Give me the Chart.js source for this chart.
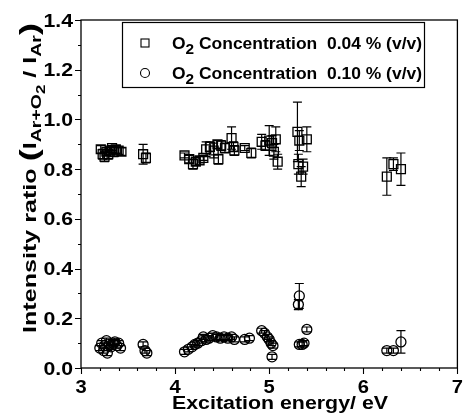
<!DOCTYPE html>
<html>
<head>
<meta charset="utf-8">
<script src="https://cdn.jsdelivr.net/npm/chart.js@4/dist/chart.umd.min.js"></script>
<style>
  html, body { margin: 0; padding: 0; background: #fff; }
  #wrap { width: 465px; height: 420px; }
</style>
</head>
<body>
<div id="wrap"><canvas id="chart" width="465" height="420"></canvas></div>
<script>
// O2 0.04 % (v/v): excitation energy (eV), intensity ratio, error
const energy004 = [3.21, 3.23, 3.25, 3.27, 3.29, 3.31, 3.33, 3.35, 3.37, 3.40, 3.43,
  3.66, 3.69,
  4.10, 4.15, 4.19, 4.22, 4.26, 4.30, 4.33, 4.37, 4.41, 4.45, 4.46, 4.49, 4.53,
  4.60, 4.62, 4.63, 4.74, 4.81,
  4.92, 4.96, 5.00, 5.03, 5.05, 5.07, 5.09,
  5.30, 5.32, 5.40, 5.31, 5.36, 5.34,
  6.25, 6.32, 6.40];
const ratio004 = [0.88, 0.86, 0.85, 0.87, 0.86, 0.875, 0.885, 0.87, 0.88, 0.875, 0.87,
  0.86, 0.845,
  0.855, 0.84, 0.82, 0.83, 0.835, 0.845, 0.88, 0.89, 0.875, 0.90, 0.84, 0.895, 0.885,
  0.925, 0.89, 0.875, 0.885, 0.865,
  0.91, 0.895, 0.915, 0.905, 0.87, 0.92, 0.83,
  0.95, 0.915, 0.92, 0.82, 0.81, 0.77,
  0.77, 0.82, 0.80];
const error004 = [0.015, 0.02, 0.02, 0.015, 0.02, 0.015, 0.01, 0.02, 0.015, 0.015, 0.015,
  0.04, 0.02,
  0.01, 0.015, 0.02, 0.015, 0.015, 0.01, 0.03, 0.02, 0.03, 0.015, 0.02, 0.02, 0.02,
  0.045, 0.02, 0.02, 0.01, 0.02,
  0.03, 0.02, 0.06, 0.03, 0.03, 0.05, 0.03,
  0.12, 0.04, 0.05, 0.04, 0.03, 0.04,
  0.075, 0.025, 0.065];

// O2 0.10 % (v/v)
const energy010 = [3.20, 3.22, 3.24, 3.25, 3.27, 3.28, 3.30, 3.32, 3.34, 3.36, 3.38, 3.40, 3.42,
  3.66, 3.68, 3.70,
  4.10, 4.14, 4.18, 4.21, 4.24, 4.28, 4.30, 4.33, 4.36, 4.40, 4.44, 4.48, 4.52, 4.56, 4.60, 4.63,
  4.74, 4.79,
  4.92, 4.95, 4.98, 5.00, 5.02, 5.04, 5.03,
  5.32, 5.31, 5.40, 5.32, 5.35, 5.37,
  6.25, 6.32, 6.40];
const ratio010 = [0.08, 0.10, 0.07, 0.09, 0.11, 0.06, 0.095, 0.085, 0.10, 0.105, 0.09, 0.10, 0.08,
  0.095, 0.07, 0.06,
  0.065, 0.075, 0.085, 0.095, 0.10, 0.11, 0.125, 0.115, 0.12, 0.13, 0.125, 0.12, 0.125, 0.12, 0.125, 0.115,
  0.115, 0.12,
  0.15, 0.14, 0.125, 0.115, 0.10, 0.09, 0.045,
  0.29, 0.255, 0.155, 0.095, 0.095, 0.10,
  0.07, 0.07, 0.105];
const error010 = [0.01, 0.01, 0.01, 0.01, 0.01, 0.01, 0.01, 0.01, 0.01, 0.01, 0.01, 0.01, 0.01,
  0.01, 0.01, 0.01,
  0.01, 0.01, 0.01, 0.01, 0.01, 0.01, 0.01, 0.01, 0.01, 0.01, 0.01, 0.01, 0.01, 0.01, 0.01, 0.01,
  0.01, 0.01,
  0.01, 0.01, 0.01, 0.01, 0.01, 0.01, 0.01,
  0.05, 0.02, 0.01, 0.01, 0.01, 0.01,
  0.01, 0.01, 0.045];

const xTickValues = [3, 4, 5, 6, 7];
const yTickValues = [0, 0.2, 0.4, 0.6, 0.8, 1.0, 1.2, 1.4];
const legendValues = ['0.04 % (v/v)', '0.10 % (v/v)'];

const FONT = '"Liberation Sans", Arial, sans-serif';

function points(xs, ys) { return xs.map((x, i) => ({ x, y: ys[i] })); }

// draw a sequence of text runs (size, baseline shift) stretched to a given total width
function runsWidth(ctx, runs) {
  let w = 0;
  for (const r of runs) { ctx.font = 'bold ' + r.size + 'px ' + FONT; w += ctx.measureText(r.t).width; }
  return w;
}
function drawRuns(ctx, x, y, runs, targetWidth) {
  const w = runsWidth(ctx, runs);
  const sx = targetWidth ? targetWidth / w : 1;
  ctx.save();
  ctx.translate(x, y);
  ctx.scale(sx, 1);
  ctx.textAlign = 'left';
  ctx.textBaseline = 'alphabetic';
  let cx = 0;
  for (const r of runs) {
    ctx.font = 'bold ' + r.size + 'px ' + FONT;
    ctx.fillText(r.t, cx, r.dy || 0);
    cx += ctx.measureText(r.t).width;
  }
  ctx.restore();
}

const errorBars = {
  id: 'errorBars',
  beforeDatasetsDraw(chart) {
    const { ctx, scales: { x, y } } = chart;
    const sets = [[energy004, ratio004, error004], [energy010, ratio010, error010]];
    ctx.save();
    ctx.strokeStyle = '#000';
    ctx.lineWidth = 1.2;
    for (const [xs, ys, es] of sets) {
      xs.forEach((e, i) => {
        const px = x.getPixelForValue(e);
        const top = y.getPixelForValue(ys[i] + es[i]);
        const bot = y.getPixelForValue(ys[i] - es[i]);
        ctx.beginPath();
        ctx.moveTo(px, top); ctx.lineTo(px, bot);
        ctx.moveTo(px - 4.5, top); ctx.lineTo(px + 4.5, top);
        ctx.moveTo(px - 4.5, bot); ctx.lineTo(px + 4.5, bot);
        ctx.stroke();
      });
    }
    ctx.restore();
  }
};

const frameAndText = {
  id: 'frameAndText',
  afterDraw(chart) {
    const { ctx, chartArea: { left, right, top, bottom }, scales: { x, y } } = chart;
    ctx.save();
    ctx.strokeStyle = '#000';
    ctx.fillStyle = '#000';
    ctx.lineWidth = 1.3;
    ctx.strokeRect(left, top, right - left, bottom - top);

    // tick marks, outward on the bottom and left axes
    ctx.lineWidth = 1.1;
    ctx.beginPath();
    for (let v = 3; v <= 7.0001; v += 0.2) {
      const px = Math.round(x.getPixelForValue(v)) + 0.5;
      const major = Math.abs(v - Math.round(v)) < 1e-6;
      ctx.moveTo(px, bottom); ctx.lineTo(px, bottom + (major ? 6 : 3));
    }
    for (let v = 0; v <= 1.4001; v += 0.1) {
      const py = Math.round(y.getPixelForValue(v)) + 0.5;
      const major = Math.abs(v * 5 - Math.round(v * 5)) < 1e-6;
      ctx.moveTo(left, py); ctx.lineTo(left - (major ? 6 : 3), py);
    }
    ctx.stroke();

    // tick labels
    ctx.font = 'bold 18px ' + FONT;
    ctx.textBaseline = 'alphabetic';
    for (const v of xTickValues) {
      const px = x.getPixelForValue(v);
      const t = String(v);
      ctx.font = 'bold 18px ' + FONT;
      const w = ctx.measureText(t).width * 1.12;
      drawRuns(ctx, px - w / 2, 393, [{ t, size: 18 }], w);
    }
    for (const v of yTickValues) {
      const py = y.getPixelForValue(v);
      const t = v.toFixed(1);
      ctx.font = 'bold 18px ' + FONT;
      const w = ctx.measureText(t).width * 1.18;
      drawRuns(ctx, left - 8 - w, py + 6.5, [{ t, size: 18 }], w);
    }

    // x-axis title
    drawRuns(ctx, 172, 409, [{ t: 'Excitation energy/ eV', size: 18 }], 216);

    // y-axis title, rotated
    ctx.save();
    ctx.translate(36, 333);
    ctx.rotate(-Math.PI / 2);
    drawRuns(ctx, 0, 0, [
      { t: 'Intensity ratio ', size: 18 },
      { t: '(', size: 26, dy: 2 },
      { t: 'I', size: 18 },
      { t: 'Ar+O', size: 14, dy: 5 },
      { t: '2', size: 12, dy: 9 },
      { t: ' / ', size: 18 },
      { t: 'I', size: 18 },
      { t: 'Ar', size: 14, dy: 5 },
      { t: ')', size: 26, dy: 2 }
    ], 310);
    ctx.restore();

    // legend
    ctx.lineWidth = 1.2;
    ctx.strokeRect(122.5, 22.5, 302, 65);
    ctx.lineWidth = 1.1;
    ctx.strokeRect(141, 39, 8, 8);
    ctx.beginPath(); ctx.arc(145, 73, 4.5, 0, Math.PI * 2); ctx.stroke();
    const rows = [49, 79];
    legendValues.forEach((val, i) => {
      drawRuns(ctx, 172, rows[i], [
        { t: 'O', size: 17 },
        { t: '2', size: 15, dy: 5 },
        { t: ' Concentration  ' + val, size: 17 }
      ], 250);
    });
    ctx.restore();
  }
};

new Chart(document.getElementById('chart'), {
  type: 'scatter',
  data: {
    datasets: [
      {
        label: 'O2 Concentration ' + legendValues[0],
        data: points(energy004, ratio004),
        pointStyle: 'rect',
        pointRadius: 6.3,
        borderWidth: 1.3,
        borderColor: '#000',
        backgroundColor: 'rgba(0,0,0,0)'
      },
      {
        label: 'O2 Concentration ' + legendValues[1],
        data: points(energy010, ratio010),
        pointStyle: 'circle',
        pointRadius: 5,
        borderWidth: 1.3,
        borderColor: '#000',
        backgroundColor: 'rgba(0,0,0,0)'
      }
    ]
  },
  options: {
    responsive: false,
    animation: false,
    devicePixelRatio: 1,
    layout: { padding: { left: 81, top: 20, right: 6, bottom: 52 } },
    plugins: { legend: { display: false }, tooltip: { enabled: false } },
    scales: {
      x: { type: 'linear', min: 3, max: 7, display: false },
      y: { type: 'linear', min: 0, max: 1.4, display: false }
    }
  },
  plugins: [errorBars, frameAndText]
});
</script>
</body>
</html>
